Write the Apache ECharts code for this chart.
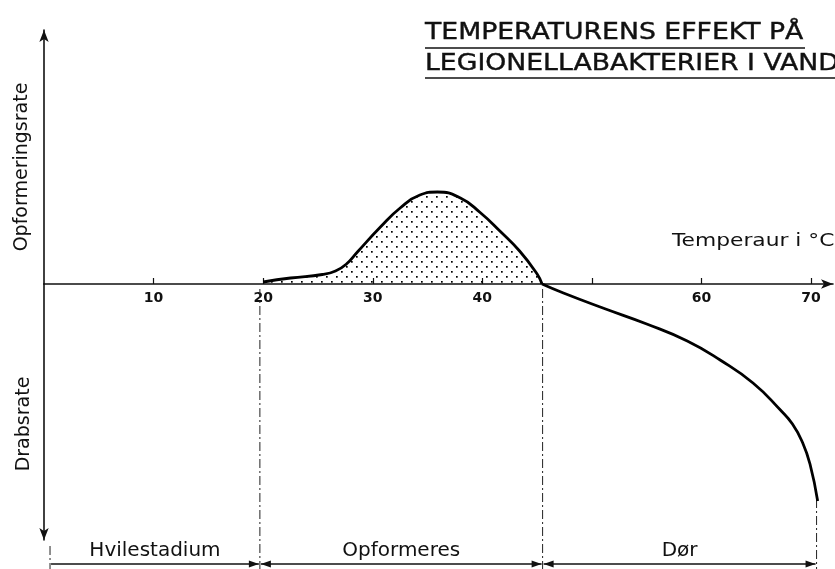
<!DOCTYPE html>
<html><head><meta charset="utf-8">
<script src="https://cdn.jsdelivr.net/npm/echarts@6/dist/echarts.min.js"></script>
<style>html,body{margin:0;padding:0;background:#fff}#c{width:835px;height:569px}</style>
</head><body><div id="c"></div>
<script>
// Growth (positive) and kill (negative) rate curve, temperature in °C
const growthTemp = [20.0, 22.5, 25.4, 26.6, 27.6, 28.6, 30.7, 32.5, 34.3, 35.9, 38.0, 39.8, 41.6, 43.4, 45.0, 45.45];
const growthRate = [2, 6, 9.5, 13, 20, 32, 57, 76, 89, 92, 86, 71.5, 53, 33, 10, 0];
const killTemp = [45.45, 47.4, 51.0, 55.0, 58.7, 61.7, 64.7, 67.2, 68.3, 69.2, 69.9, 70.6];
const killRate = [0, -9, -24, -40, -57, -76, -99, -126, -140, -158, -180, -217];
const tickValues = [10, 20, 30, 40, 50, 60, 70];
const tickLabels = ['10', '20', '30', '40', '', '60', '70'];
// zones below the chart
const zoneStart = [0.55, 19.7, 45.5];
const zoneEnd = [19.7, 45.5, 70.5];
const zoneLabels = ['Hvilestadium', 'Opformeres', 'Dør'];
const zoneArrowStart = [false, true, true];
const zoneArrowEnd = [true, true, true];
// boundary lines: temperature and the rate value where the dashed line starts
const boundaryTemp = [0.55, 19.7, 45.5, 70.5];
const boundaryTop = [-262, -5, -5, -215];

const FONT = '"DejaVu Sans", "Liberation Sans", Arial, sans-serif';

// dotted pattern
const pat = document.createElement('canvas');
pat.width = 10; pat.height = 10;
const pc = pat.getContext('2d');
pc.fillStyle = '#000';
pc.fillRect(1, 1, 1.7, 1.7);
pc.fillRect(6, 6, 1.7, 1.7);

const chart = echarts.init(document.getElementById('c'), null, {renderer: 'canvas'});

const growthData = growthTemp.map((t, i) => [t, growthRate[i]]);
const killData = killTemp.map((t, i) => [t, killRate[i]]);
const zoneData = zoneStart.map((s, i) => [s, zoneEnd[i], i]);
const boundaryData = boundaryTemp.map((t, i) => [t, boundaryTop[i]]);

function arrowHead(x, y, dir) {
  return {type: 'polygon', shape: {points: [[x, y], [x - dir * 10, y - 3.5], [x - dir * 10, y + 3.5]]},
    style: {fill: '#111'}};
}

const axisLineStyle = {color: '#111', width: 1.6};

const option = {
  backgroundColor: '#fff',
  animation: false,
  grid: [
    {left: 44, right: 2, top: 30, bottom: 285, containLabel: false},
    {left: 44, right: 2, top: 284, bottom: 29, containLabel: false}
  ],
  xAxis: [
    {
      gridIndex: 0, type: 'value', min: 0, max: 72, interval: 10,
      axisLine: {show: true, onZero: false, symbol: ['none', 'arrow'], symbolSize: [7, 12], lineStyle: axisLineStyle},
      axisTick: {show: true, inside: true, length: 6, lineStyle: {color: '#111', width: 1.2}, customValues: tickValues},
      axisLabel: {show: true, customValues: tickValues, margin: 7,
        formatter: v => tickLabels[tickValues.indexOf(v)] ?? '',
        color: '#111', fontSize: 14, fontWeight: 'bold', fontFamily: FONT},
      splitLine: {show: false}
    },
    {
      gridIndex: 1, type: 'value', min: 0, max: 72, show: false
    }
  ],
  yAxis: [
    {
      gridIndex: 0, type: 'value', min: 0, max: 254,
      axisLine: {show: true, onZero: false, symbol: ['none', 'arrow'], symbolSize: [7, 12], lineStyle: axisLineStyle},
      axisTick: {show: false}, axisLabel: {show: false}, splitLine: {show: false}
    },
    {
      gridIndex: 1, type: 'value', min: -256, max: 0,
      axisLine: {show: true, onZero: false, symbol: ['arrow', 'none'], symbolSize: [7, 12], lineStyle: axisLineStyle},
      axisTick: {show: false}, axisLabel: {show: false}, splitLine: {show: false}
    }
  ],
  graphic: [
    {type: 'text', x: 425, y: 22, scaleX: 1.16, style: {text: 'TEMPERATURENS EFFEKT PÅ', font: '23px ' + FONT, fill: '#111', stroke: '#111', lineWidth: 0.4}},
    {type: 'text', x: 425, y: 53, scaleX: 1.16, style: {text: 'LEGIONELLABAKTERIER I VAND', font: '23px ' + FONT, fill: '#111', stroke: '#111', lineWidth: 0.4}},
    {type: 'line', shape: {x1: 425, y1: 48, x2: 805, y2: 48}, style: {stroke: '#111', lineWidth: 1.5}},
    {type: 'line', shape: {x1: 425, y1: 78, x2: 835, y2: 78}, style: {stroke: '#111', lineWidth: 1.5}},
    {type: 'text', x: 672, y: 233, scaleX: 1.28, style: {text: 'Temperaur i °C', font: '17px ' + FONT, fill: '#111'}},
    {type: 'text', x: 22, y: 167, rotation: Math.PI / 2,
      style: {text: 'Opformeringsrate', font: '19px ' + FONT, fill: '#111', align: 'center', verticalAlign: 'middle'}},
    {type: 'text', x: 24, y: 424, rotation: Math.PI / 2,
      style: {text: 'Drabsrate', font: '19px ' + FONT, fill: '#111', align: 'center', verticalAlign: 'middle'}}
  ],
  series: [
    {
      type: 'line', xAxisIndex: 0, yAxisIndex: 0, data: growthData, smooth: 0.5, symbol: 'none',
      lineStyle: {color: '#000', width: 2.8},
      areaStyle: {color: {image: pat, repeat: 'repeat'}, opacity: 1}
    },
    {
      type: 'line', xAxisIndex: 1, yAxisIndex: 1, data: killData, smooth: 0.5, symbol: 'none',
      lineStyle: {color: '#000', width: 2.8}
    },
    {
      type: 'custom', xAxisIndex: 1, yAxisIndex: 1, clip: false, data: boundaryData, silent: true,
      renderItem: (params, api) => {
        const p = api.coord([api.value(0), api.value(1)]);
        return {type: 'line', shape: {x1: p[0], y1: p[1], x2: p[0], y2: 569},
          style: {stroke: '#222', lineWidth: 1, lineDash: [9, 3, 2, 3]}};
      }
    },
    {
      type: 'custom', xAxisIndex: 1, yAxisIndex: 1, clip: false, data: zoneData, silent: true,
      renderItem: (params, api) => {
        const i = api.value(2);
        const a = api.coord([api.value(0), 0]);
        const b = api.coord([api.value(1), 0]);
        const y = 564;
        const children = [
          {type: 'line', shape: {x1: a[0] + 1, y1: y, x2: b[0] - 1, y2: y}, style: {stroke: '#111', lineWidth: 1.4}},
          {type: 'text', style: {text: zoneLabels[i], x: (a[0] + b[0]) / 2, y: 551, align: 'center', verticalAlign: 'middle',
            font: '20px ' + FONT, fill: '#111'}}
        ];
        if (zoneArrowStart[i]) children.push(arrowHead(a[0] + 1, y, -1));
        if (zoneArrowEnd[i]) children.push(arrowHead(b[0] - 1, y, 1));
        return {type: 'group', children};
      }
    }
  ]
};
chart.setOption(option);
</script></body></html>
